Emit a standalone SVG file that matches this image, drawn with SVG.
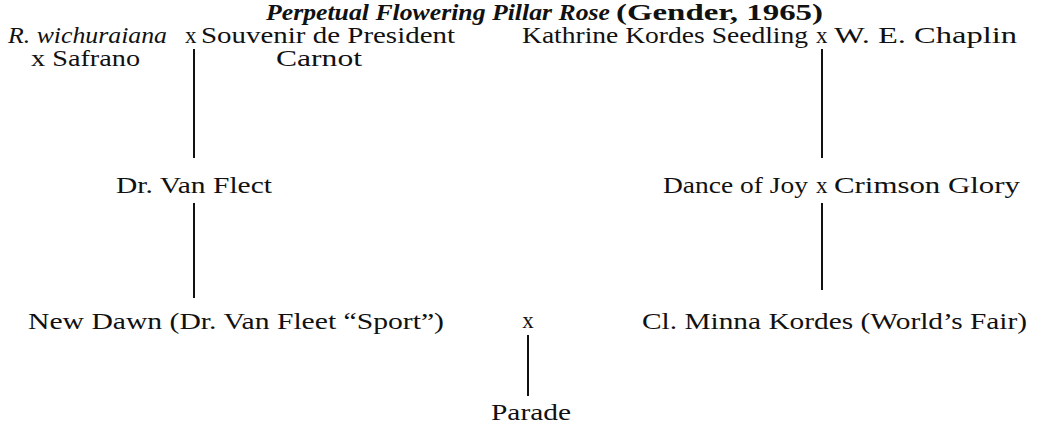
<svg xmlns="http://www.w3.org/2000/svg" width="1042" height="429" viewBox="0 0 1042 429">
<style>
text{font-family:"Liberation Serif","Times New Roman",serif;font-size:23px;fill:#111}
.t{font-weight:bold}
.i{font-style:italic}
.c line{stroke:#111;stroke-width:2}
</style>
<rect width="1042" height="429" fill="#fff"/>
<g id="title">
<text class="t i" x="266" y="20" textLength="344" lengthAdjust="spacingAndGlyphs">Perpetual Flowering Pillar Rose</text>
<text class="t" x="616" y="20" textLength="207" lengthAdjust="spacingAndGlyphs">(Gender, 1965)</text>
</g>
<g id="rw">
<text class="i" x="8" y="43" textLength="159" lengthAdjust="spacingAndGlyphs">R. wichuraiana</text>
<text x="185" y="43">x</text>
<text x="31" y="66" textLength="109" lengthAdjust="spacingAndGlyphs">x Safrano</text>
</g>
<g id="sdp">
<text x="201" y="43" textLength="254" lengthAdjust="spacingAndGlyphs">Souvenir de President</text>
<text x="276" y="66" textLength="86" lengthAdjust="spacingAndGlyphs">Carnot</text>
</g>
<g id="kks">
<text x="522" y="43" textLength="286" lengthAdjust="spacingAndGlyphs">Kathrine Kordes Seedling</text>
<text x="816" y="43">x</text>
<text x="834" y="43" textLength="183" lengthAdjust="spacingAndGlyphs">W. E. Chaplin</text>
</g>
<g id="dvf">
<text x="116" y="193" textLength="156" lengthAdjust="spacingAndGlyphs">Dr. Van Flect</text>
</g>
<g id="doj">
<text x="663" y="193" textLength="145" lengthAdjust="spacingAndGlyphs">Dance of Joy</text>
<text x="816" y="193">x</text>
<text x="834" y="193" textLength="186" lengthAdjust="spacingAndGlyphs">Crimson Glory</text>
</g>
<g id="nd">
<text x="28" y="329" textLength="416" lengthAdjust="spacingAndGlyphs">New Dawn (Dr. Van Fleet “Sport”)</text>
</g>
<g id="cross">
<text x="528" y="328" text-anchor="middle">x</text>
</g>
<g id="cmk">
<text x="642" y="329" textLength="385" lengthAdjust="spacingAndGlyphs">Cl. Minna Kordes (World’s Fair)</text>
</g>
<g id="parade">
<text x="491" y="420" textLength="80" lengthAdjust="spacingAndGlyphs">Parade</text>
</g>
<g id="connectors" class="c">
<line x1="194" y1="49" x2="194" y2="158"/>
<line x1="194" y1="203" x2="194" y2="298"/>
<line x1="822" y1="49" x2="822" y2="158"/>
<line x1="822" y1="203" x2="822" y2="290"/>
<line x1="528" y1="335" x2="528" y2="396"/>
</g>
</svg>
